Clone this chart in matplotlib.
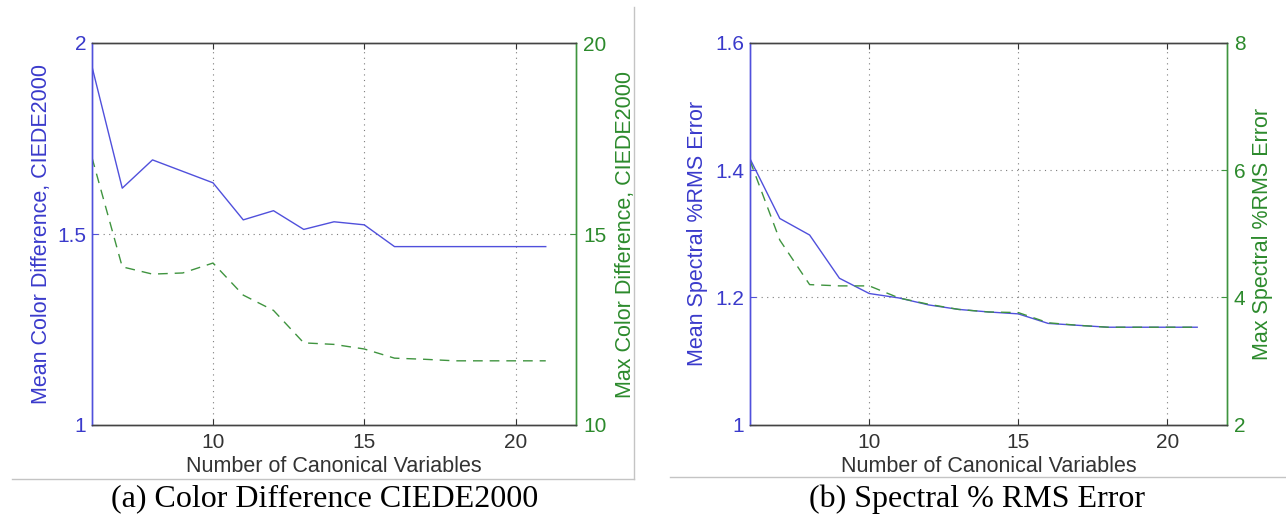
import matplotlib.pyplot as plt
from matplotlib.lines import Line2D

# number of canonical variables
n_vars = list(range(6, 22))

# (a) colour difference CIEDE2000
mean_de = [1.938, 1.620, 1.694, 1.664, 1.634, 1.537, 1.561, 1.512,
           1.532, 1.524, 1.467, 1.467, 1.467, 1.467, 1.467, 1.467]
max_de = [17.0, 14.14, 13.95, 13.98, 14.24, 13.40, 13.00, 12.15,
          12.11, 11.99, 11.75, 11.72, 11.68, 11.68, 11.68, 11.68]

# (b) spectral %RMS error
mean_rms = [1.418, 1.324, 1.298, 1.230, 1.206, 1.199, 1.188, 1.181,
            1.177, 1.174, 1.159, 1.156, 1.153, 1.153, 1.153, 1.153]
max_rms = [6.15, 4.90, 4.20, 4.18, 4.18, 3.99, 3.89, 3.81,
           3.77, 3.76, 3.60, 3.56, 3.53, 3.53, 3.53, 3.53]

x_ticks = [10, 15, 20]

BLUE = '#5050dc'
BLUE_TXT = '#3a3acb'
GREEN = '#3f943f'
GREEN_TXT = '#2c8a2c'
GRID = '#7c7c7c'

plt.rcParams['font.family'] = ['Liberation Sans', 'DejaVu Sans']

fig = plt.figure(figsize=(12.86, 5.21), dpi=100)


def draw_panel(rect, y1, y2, lim1, lim2, ticks1, ticks2, grid_y,
               label1, label2, lab1_x, lab2_x):
    ax = fig.add_axes(rect)
    ax2 = ax.twinx()

    ax.plot(n_vars, y1, color=BLUE, lw=1.0)
    ax2.plot(n_vars, y2, color=GREEN, lw=1.0, ls=(0, (7, 5)))

    ax.set_xlim(6, 22)
    ax.set_ylim(*lim1)
    ax2.set_ylim(*lim2)
    ax.set_xticks(x_ticks)
    ax.set_yticks(ticks1)
    ax2.set_yticks(ticks2)
    ax.set_yticklabels([('%g' % t) for t in ticks1])
    ax2.set_yticklabels([('%g' % t) for t in ticks2])

    # dotted grid like the old MATLAB style
    for xv in x_ticks:
        ax.axvline(xv, color=GRID, lw=0.8, ls=(0, (1, 4)), zorder=0)
    for yv in grid_y:
        ax.axhline(yv, color=GRID, lw=0.8, ls=(0, (1, 4)), zorder=0)

    ax.tick_params(axis='x', direction='in', length=4, pad=6,
                   labelsize=15, colors='#333333', top=True)
    ax.tick_params(axis='y', direction='in', length=4, pad=4,
                   labelsize=15, colors=BLUE, labelcolor=BLUE_TXT)
    ax2.tick_params(axis='y', direction='in', length=4, pad=5,
                    labelsize=15, colors=GREEN, labelcolor=GREEN_TXT)

    for a in (ax, ax2):
        a.spines['top'].set_color('#444444')
        a.spines['bottom'].set_color('#444444')
        a.spines['left'].set_color(BLUE)
        a.spines['right'].set_color(GREEN)
        for s in a.spines.values():
            s.set_linewidth(1.0)

    ax.set_xlabel('Number of Canonical Variables', fontsize=15.5,
                  color='#333333')
    ax.xaxis.set_label_coords(0.5, -0.082)
    ax.set_ylabel(label1, fontsize=15.5, color=BLUE_TXT)
    ax.yaxis.set_label_coords(lab1_x, 0.5)
    ax2.set_ylabel(label2, fontsize=15.5, color=GREEN_TXT)
    ax2.yaxis.set_label_coords(lab2_x, 0.5)
    return ax, ax2


W, H = 1286.0, 521.0

draw_panel([92 / W, (H - 425) / H, 484 / W, 382 / H],
           mean_de, max_de, (1, 2), (10, 20), [1, 1.5, 2], [10, 15, 20],
           [1.5], 'Mean Color Difference, CIEDE2000',
           'Max Color Difference, CIEDE2000', -0.083, 1.081)

draw_panel([750 / W, (H - 424.5) / H, 477 / W, 381.5 / H],
           mean_rms, max_rms, (1, 1.6), (2, 8), [1, 1.2, 1.4, 1.6],
           [2, 4, 6, 8], [1.2, 1.4], 'Mean Spectral %RMS Error',
           'Max Spectral %RMS Error', -0.088, 1.052)

# sub-figure captions
fig.text(325 / W, 1 - 499 / H, '(a) Color Difference CIEDE2000',
         family='Liberation Serif', fontsize=23, ha='center', va='center')
fig.text(977 / W, 1 - 499 / H, '(b) Spectral % RMS Error',
         family='Liberation Serif', fontsize=23, ha='center', va='center')

# thin frame lines separating the panels from their captions
sep = '#c4c4c4'
fig.add_artist(Line2D([12 / W, 634 / W], [1 - 479 / H, 1 - 479 / H],
                      color=sep, lw=1.0))
fig.add_artist(Line2D([634 / W, 634 / W], [1 - 7 / H, 1 - 479 / H],
                      color=sep, lw=1.0))
fig.add_artist(Line2D([670 / W, 1.0], [1 - 477 / H, 1 - 477 / H],
                      color=sep, lw=1.0))

fig.savefig('out.png', dpi=100)
plt.close(fig)
